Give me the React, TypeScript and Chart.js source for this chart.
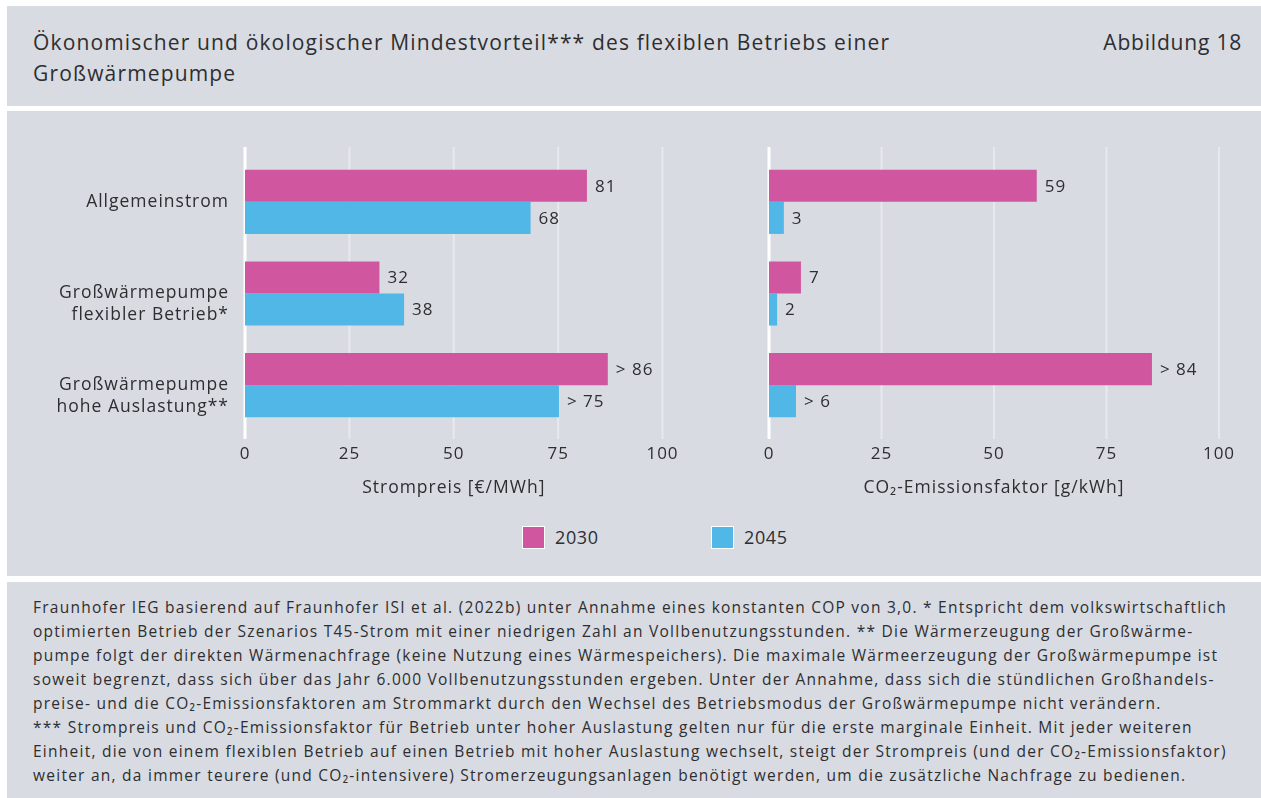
import React, { useEffect, useRef } from "react";
import { Chart, registerables } from "chart.js";

Chart.register(...registerables);

const categories: (string | string[])[] = [
  ["Allgemeinstrom"],
  ["", "Großwärmepumpe", "flexibler Betrieb*"],
  ["", "Großwärmepumpe", "hohe Auslastung**"],
];
const seriesNames = ["2030", "2045"];
const priceValues2030 = [81.9, 32.2, 86.9];
const priceValues2045 = [68.4, 38.1, 75.2];
const priceLabels2030 = ["81", "32", "> 86"];
const priceLabels2045 = ["68", "38", "> 75"];
const co2Values2030 = [59.5, 7.1, 85.1];
const co2Values2045 = [3.3, 1.8, 6.0];
const co2Labels2030 = ["59", "7", "> 84"];
const co2Labels2045 = ["3", "2", "> 6"];
const xTicks = [0, 25, 50, 75, 100];
const priceAxisTitle = "Strompreis [€/MWh]";
const co2AxisTitle = "CO₂-Emissionsfaktor [g/kWh]";

const PINK = "#d0569f";
const BLUE = "#51b7e7";
const BG = "#d8dbe2";
const TEXT = "#2e2e30";
const FONT = "'Open Sans', 'Noto Sans', sans-serif";
const CANVAS_SPACING = "1px";

const footLines = [
  "Fraunhofer IEG basierend auf Fraunhofer ISI et al. (2022b) unter Annahme eines konstanten COP von 3,0. * Entspricht dem volkswirtschaftlich",
  "optimierten Betrieb der Szenarios T45-Strom mit einer niedrigen Zahl an Vollbenutzungsstunden. ** Die Wärmerzeugung der Großwärme-",
  "pumpe folgt der direkten Wärmenachfrage (keine Nutzung eines Wärmespeichers). Die maximale Wärmeerzeugung der Großwärmepumpe ist",
  "soweit begrenzt, dass sich über das Jahr 6.000 Vollbenutzungsstunden ergeben. Unter der Annahme, dass sich die stündlichen Großhandels-",
  "preise- und die CO₂-Emissionsfaktoren am Strommarkt durch den Wechsel des Betriebsmodus der Großwärmepumpe nicht verändern.",
  "*** Strompreis und CO₂-Emissionsfaktor für Betrieb unter hoher Auslastung gelten nur für die erste marginale Einheit. Mit jeder weiteren",
  "Einheit, die von einem flexiblen Betrieb auf einen Betrieb mit hoher Auslastung wechselt, steigt der Strompreis (und der CO₂-Emissionsfaktor)",
  "weiter an, da immer teurere (und CO₂-intensivere) Stromerzeugungsanlagen benötigt werden, um die zusätzliche Nachfrage zu bedienen.",
];

const spacingPlugin = {
  id: "letterSpacing",
  beforeDraw(chart: any) {
    try {
      (chart.ctx as any).letterSpacing = CANVAS_SPACING;
    } catch (e) {}
  },
};

const gridPlugin = {
  id: "customGrid",
  beforeDatasetsDraw(chart: any) {
    const { ctx, chartArea, scales } = chart;
    const xs = scales.x;
    ctx.save();
    xTicks.forEach((v) => {
      const px = xs.getPixelForValue(v);
      ctx.beginPath();
      ctx.strokeStyle = v === 0 ? "#ffffff" : "#e8e9ed";
      ctx.lineWidth = v === 0 ? 3 : 2;
      ctx.moveTo(px, chartArea.top - 9);
      ctx.lineTo(px, chartArea.bottom + 8);
      ctx.stroke();
    });
    ctx.restore();
  },
};

const valueLabelPlugin = {
  id: "valueLabels",
  afterDatasetsDraw(chart: any) {
    const { ctx } = chart;
    ctx.save();
    ctx.font = `17px ${FONT}`;
    ctx.fillStyle = TEXT;
    ctx.textAlign = "left";
    ctx.textBaseline = "middle";
    chart.data.datasets.forEach((ds: any, i: number) => {
      const meta = chart.getDatasetMeta(i);
      meta.data.forEach((bar: any, j: number) => {
        ctx.fillText(ds.valueLabels[j], bar.x + 8, bar.y + 1);
      });
    });
    ctx.restore();
  },
};

function makeConfig(
  v30: number[],
  v45: number[],
  l30: string[],
  l45: string[],
  title: string,
  showY: boolean,
  yWidth: number,
  rightPad: number
): any {
  return {
    type: "bar",
    data: {
      labels: categories,
      datasets: [
        {
          label: seriesNames[0],
          data: v30,
          valueLabels: l30,
          backgroundColor: PINK,
          borderWidth: 0,
          categoryPercentage: 0.7,
          barPercentage: 1,
        },
        {
          label: seriesNames[1],
          data: v45,
          valueLabels: l45,
          backgroundColor: BLUE,
          borderWidth: 0,
          categoryPercentage: 0.7,
          barPercentage: 1,
        },
      ],
    },
    options: {
      indexAxis: "y",
      animation: false,
      responsive: false,
      devicePixelRatio: 1,
      layout: { padding: { top: 26, right: rightPad, bottom: 0, left: 0 } },
      plugins: { legend: { display: false }, tooltip: { enabled: false } },
      scales: {
        x: {
          min: 0,
          max: 100,
          ticks: {
            stepSize: 25,
            padding: 13,
            color: TEXT,
            font: { family: FONT, size: 17 },
          },
          grid: { display: false, drawTicks: false },
          border: { display: false },
          title: {
            display: true,
            text: title,
            color: TEXT,
            font: { family: FONT, size: 17.5 },
            padding: { top: 0, bottom: 11 },
          },
          afterFit: (s: any) => {
            s.height = 79;
            s.paddingLeft = 0;
            s.paddingRight = 0;
          },
        },
        y: {
          display: true,
          ticks: {
            display: showY,
            padding: 16,
            color: TEXT,
            font: { family: FONT, size: 17.5, lineHeight: 1.22 },
          },
          grid: { display: false, drawTicks: false },
          border: { display: false },
          afterFit: (s: any) => {
            s.width = yWidth;
            s.paddingTop = 0;
            s.paddingBottom = 0;
          },
        },
      },
    },
    plugins: [spacingPlugin, gridPlugin, valueLabelPlugin],
  };
}

export default function App() {
  const c1 = useRef<HTMLCanvasElement>(null);
  const c2 = useRef<HTMLCanvasElement>(null);

  useEffect(() => {
    document.body.style.margin = "0";
    document.body.style.overflow = "hidden";
    const ch1 = new Chart(
      c1.current!,
      makeConfig(priceValues2030, priceValues2045, priceLabels2030, priceLabels2045, priceAxisTitle, true, 225, 37.5)
    );
    const ch2 = new Chart(
      c2.current!,
      makeConfig(co2Values2030, co2Values2045, co2Labels2030, co2Labels2045, co2AxisTitle, false, 69, 42)
    );
    return () => {
      ch1.destroy();
      ch2.destroy();
    };
  }, []);

  const abs = (l: number, t: number, w: number, h: number): React.CSSProperties => ({
    position: "absolute",
    left: l,
    top: t,
    width: w,
    height: h,
  });

  return (
    <div
      style={{
        position: "absolute",
        left: 0,
        top: 0,
        width: 1261,
        height: 798,
        background: "#ffffff",
        fontFamily: FONT,
        color: TEXT,
        overflow: "hidden",
      }}
    >
      <div style={{ ...abs(7, 6, 1254, 100), background: BG }} />
      <div style={{ ...abs(7, 111, 1254, 465), background: BG }} />
      <div style={{ ...abs(7, 582, 1254, 216), background: BG }} />

      <div
        style={{
          position: "absolute",
          left: 33,
          top: 27,
          fontSize: 21,
          letterSpacing: "1.15px",
          lineHeight: "31px",
          width: 1000,
          whiteSpace: "nowrap",
        }}
      >
        Ökonomischer und ökologischer Mindestvorteil*** des flexiblen Betriebs einer
        <br />
        Großwärmepumpe
      </div>
      <div
        style={{
          position: "absolute",
          right: 1261 - 1242,
          top: 27,
          fontSize: 21,
          letterSpacing: "0.8px",
          lineHeight: "31px",
          whiteSpace: "nowrap",
        }}
      >
        Abbildung 18
      </div>

      <canvas ref={c1} width={680} height={380} style={{ ...abs(20, 130, 680, 380), display: "block" }} />
      <canvas ref={c2} width={561} height={380} style={{ ...abs(700, 130, 561, 380), display: "block" }} />

      <div style={{ ...abs(522, 526, 23, 23), background: PINK, border: "1px solid #ffffff", boxSizing: "border-box" }} />
      <div style={{ position: "absolute", left: 555, top: 526, fontSize: 18, letterSpacing: "0.6px", lineHeight: "23px" }}>
        {seriesNames[0]}
      </div>
      <div style={{ ...abs(711, 526, 23, 23), background: BLUE, border: "1px solid #ffffff", boxSizing: "border-box" }} />
      <div style={{ position: "absolute", left: 744, top: 526, fontSize: 18, letterSpacing: "0.6px", lineHeight: "23px" }}>
        {seriesNames[1]}
      </div>

      <div
        style={{
          position: "absolute",
          left: 33,
          top: 595,
          fontSize: 15.5,
          letterSpacing: "1.25px",
          lineHeight: "24px",
          whiteSpace: "nowrap",
        }}
      >
        {footLines.map((l, i) => (
          <div key={i}>{l}</div>
        ))}
      </div>
    </div>
  );
}
